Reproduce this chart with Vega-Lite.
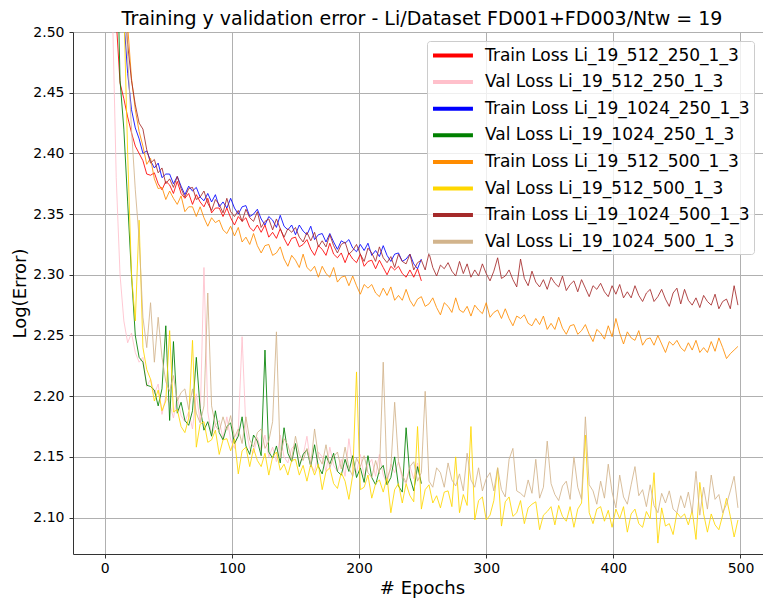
{
  "$schema": "https://vega.github.io/schema/vega-lite/v6.json",
  "width": 698,
  "height": 522,
  "autosize": {"type": "none"},
  "padding": {"left": 73, "top": 32, "right": 0, "bottom": 44},
  "config": {"view": {"stroke": null}, "font": "DejaVu Sans"},
  "title": {
    "text": "Training y validation error - Li/Dataset FD001+FD003/Ntw = 19",
    "font": "DejaVu Sans", "fontSize": 19, "fontWeight": "normal", "color": "black",
    "anchor": "middle", "frame": "group", "offset": -4
  },
  "data": {"values": [
    {"e":0,"a":3.2,"b":3.0,"c":3.4,"d":3.2,"f":3.4,"g":3.3,"h":3.4,"k":3.3},
    {"e":3,"a":2.9,"b":2.75,"c":3.1,"d":2.95,"f":3.2,"g":3.0,"h":3.15,"k":3.05},
    {"e":6,"a":2.65,"b":2.52,"c":2.85,"d":2.75,"f":3.0,"g":2.8,"h":2.9,"k":2.88},
    {"e":9,"a":2.51,"b":2.38,"c":2.68,"d":2.6,"f":2.8,"g":2.65,"h":2.72,"k":2.74},
    {"e":12,"a":2.458,"b":2.30,"c":2.57,"d":2.46,"f":2.65,"g":2.58,"h":2.6,"k":2.63},
    {"e":15,"a":2.445,"b":2.262,"c":2.51,"d":2.42,"f":2.56,"g":2.52,"h":2.53,"k":2.55},
    {"e":18,"a":2.43,"b":2.244,"c":2.466,"d":2.36,"f":2.505,"g":2.40,"h":2.49,"k":2.48},
    {"e":21,"a":2.417,"b":2.252,"c":2.436,"d":2.30,"f":2.462,"g":2.30,"h":2.46,"k":2.42},
    {"e":24,"a":2.406,"b":2.236,"c":2.421,"d":2.25,"f":2.436,"g":2.262,"h":2.44,"k":2.37},
    {"e":27,"a":2.40,"b":2.228,"c":2.412,"d":2.232,"f":2.418,"g":2.345,"h":2.425,"k":2.33},
    {"e":30,"a":2.394,"b":2.232,"c":2.400,"d":2.228,"f":2.406,"g":2.24,"h":2.420,"k":2.265},
    {"e":33,"a":2.383,"b":2.208,"c":2.402,"d":2.209,"f":2.391,"g":2.222,"h":2.403,"k":2.24},
    {"e":36,"a":2.382,"b":2.214,"c":2.394,"d":2.208,"f":2.396,"g":2.214,"h":2.392,"k":2.277},
    {"e":39,"a":2.384,"b":2.202,"c":2.388,"d":2.205,"f":2.379,"g":2.196,"h":2.395,"k":2.228},
    {"e":42,"a":2.375,"b":2.21,"c":2.392,"d":2.192,"f":2.371,"g":2.205,"h":2.384,"k":2.265},
    {"e":45,"a":2.370,"b":2.185,"c":2.380,"d":2.206,"f":2.372,"g":2.188,"h":2.388,"k":2.232},
    {"e":48,"a":2.377,"b":2.200,"c":2.383,"d":2.258,"f":2.362,"g":2.196,"h":2.375,"k":2.212},
    {"e":51,"a":2.374,"b":2.194,"c":2.383,"d":2.180,"f":2.369,"g":2.254,"h":2.379,"k":2.204},
    {"e":54,"a":2.367,"b":2.182,"c":2.375,"d":2.245,"f":2.363,"g":2.187,"h":2.372,"k":2.217},
    {"e":57,"a":2.377,"b":2.200,"c":2.381,"d":2.186,"f":2.358,"g":2.189,"h":2.381,"k":2.196},
    {"e":60,"a":2.367,"b":2.184,"c":2.373,"d":2.195,"f":2.365,"g":2.175,"h":2.371,"k":2.203},
    {"e":63,"a":2.363,"b":2.179,"c":2.366,"d":2.180,"f":2.352,"g":2.170,"h":2.364,"k":2.206},
    {"e":66,"a":2.367,"b":2.187,"c":2.373,"d":2.176,"f":2.356,"g":2.182,"h":2.371,"k":2.189},
    {"e":69,"a":2.358,"b":2.173,"c":2.369,"d":2.188,"f":2.356,"g":2.246,"h":2.372,"k":2.206},
    {"e":72,"a":2.366,"b":2.202,"c":2.372,"d":2.232,"f":2.348,"g":2.158,"h":2.362,"k":2.186},
    {"e":75,"a":2.360,"b":2.179,"c":2.364,"d":2.190,"f":2.356,"g":2.177,"h":2.364,"k":2.178},
    {"e":78,"a":2.356,"b":2.306,"c":2.361,"d":2.172,"f":2.347,"g":2.179,"h":2.369,"k":2.192},
    {"e":81,"a":2.363,"b":2.187,"c":2.367,"d":2.179,"f":2.340,"g":2.162,"h":2.359,"k":2.285},
    {"e":84,"a":2.351,"b":2.168,"c":2.360,"d":2.167,"f":2.347,"g":2.164,"h":2.353,"k":2.192},
    {"e":87,"a":2.355,"b":2.176,"c":2.366,"d":2.188,"f":2.343,"g":2.172,"h":2.362,"k":2.176},
    {"e":90,"a":2.355,"b":2.180,"c":2.356,"d":2.170,"f":2.345,"g":2.152,"h":2.358,"k":2.171},
    {"e":93,"a":2.348,"b":2.165,"c":2.360,"d":2.164,"f":2.337,"g":2.164,"h":2.351,"k":2.183},
    {"e":96,"a":2.355,"b":2.183,"c":2.355,"d":2.175,"f":2.334,"g":2.165,"h":2.363,"k":2.172},
    {"e":99,"a":2.347,"b":2.164,"c":2.363,"d":2.178,"f":2.340,"g":2.155,"h":2.352,"k":2.184},
    {"e":102,"a":2.341,"b":2.157,"c":2.355,"d":2.161,"f":2.332,"g":2.165,"h":2.348,"k":2.166},
    {"e":105,"a":2.348,"b":2.172,"c":2.350,"d":2.167,"f":2.339,"g":2.136,"h":2.353,"k":2.173},
    {"e":108,"a":2.344,"b":2.249,"c":2.356,"d":2.183,"f":2.327,"g":2.155,"h":2.344,"k":2.161},
    {"e":111,"a":2.347,"b":2.173,"c":2.357,"d":2.159,"f":2.331,"g":2.158,"h":2.354,"k":2.183},
    {"e":114,"a":2.339,"b":2.157,"c":2.348,"d":2.152,"f":2.325,"g":2.142,"h":2.347,"k":2.164},
    {"e":117,"a":2.336,"b":2.153,"c":2.350,"d":2.168,"f":2.334,"g":2.157,"h":2.344,"k":2.158},
    {"e":120,"a":2.341,"b":2.166,"c":2.354,"d":2.163,"f":2.324,"g":2.147,"h":2.352,"k":2.170},
    {"e":123,"a":2.335,"b":2.155,"c":2.346,"d":2.151,"f":2.318,"g":2.142,"h":2.339,"k":2.173},
    {"e":126,"a":2.341,"b":2.168,"c":2.341,"d":2.238,"f":2.324,"g":2.153,"h":2.344,"k":2.157},
    {"e":129,"a":2.331,"b":2.150,"c":2.348,"d":2.154,"f":2.325,"g":2.135,"h":2.346,"k":2.163},
    {"e":132,"a":2.335,"b":2.158,"c":2.345,"d":2.149,"f":2.316,"g":2.150,"h":2.337,"k":2.179},
    {"e":135,"a":2.330,"b":2.146,"c":2.339,"d":2.159,"f":2.318,"g":2.154,"h":2.346,"k":2.253},
    {"e":138,"a":2.338,"b":2.168,"c":2.349,"d":2.145,"f":2.323,"g":2.139,"h":2.338,"k":2.149},
    {"e":141,"a":2.330,"b":2.150,"c":2.340,"d":2.174,"f":2.313,"g":2.144,"h":2.331,"k":2.165},
    {"e":144,"a":2.324,"b":2.145,"c":2.337,"d":2.153,"f":2.307,"g":2.135,"h":2.338,"k":2.160},
    {"e":147,"a":2.330,"b":2.157,"c":2.341,"d":2.146,"f":2.316,"g":2.147,"h":2.335,"k":2.148},
    {"e":150,"a":2.331,"b":2.160,"c":2.333,"d":2.161,"f":2.312,"g":2.148,"h":2.339,"k":2.167},
    {"e":153,"a":2.323,"b":2.144,"c":2.341,"d":2.142,"f":2.306,"g":2.135,"h":2.331,"k":2.152},
    {"e":156,"a":2.325,"b":2.151,"c":2.336,"d":2.152,"f":2.317,"g":2.143,"h":2.327,"k":2.147},
    {"e":159,"a":2.329,"b":2.167,"c":2.333,"d":2.156,"f":2.306,"g":2.130,"h":2.335,"k":2.157},
    {"e":162,"a":2.321,"b":2.144,"c":2.340,"d":2.142,"f":2.303,"g":2.144,"h":2.328,"k":2.143},
    {"e":165,"a":2.316,"b":2.138,"c":2.329,"d":2.160,"f":2.307,"g":2.135,"h":2.335,"k":2.173},
    {"e":168,"a":2.324,"b":2.154,"c":2.333,"d":2.142,"f":2.298,"g":2.144,"h":2.323,"k":2.150},
    {"e":171,"a":2.321,"b":2.150,"c":2.334,"d":2.136,"f":2.307,"g":2.123,"h":2.328,"k":2.144},
    {"e":174,"a":2.316,"b":2.138,"c":2.327,"d":2.151,"f":2.301,"g":2.138,"h":2.323,"k":2.160},
    {"e":177,"a":2.326,"b":2.158,"c":2.334,"d":2.144,"f":2.298,"g":2.141,"h":2.333,"k":2.141},
    {"e":180,"a":2.317,"b":2.143,"c":2.327,"d":2.153,"f":2.306,"g":2.128,"h":2.324,"k":2.150},
    {"e":183,"a":2.314,"b":2.138,"c":2.321,"d":2.138,"f":2.294,"g":2.124,"h":2.318,"k":2.154},
    {"e":186,"a":2.318,"b":2.148,"c":2.328,"d":2.135,"f":2.298,"g":2.137,"h":2.325,"k":2.140},
    {"e":189,"a":2.310,"b":2.134,"c":2.326,"d":2.148,"f":2.299,"g":2.130,"h":2.327,"k":2.158},
    {"e":192,"a":2.318,"b":2.165,"c":2.329,"d":2.138,"f":2.291,"g":2.115,"h":2.317,"k":2.141},
    {"e":195,"a":2.313,"b":2.142,"c":2.322,"d":2.151,"f":2.299,"g":2.135,"h":2.320,"k":2.134},
    {"e":198,"a":2.310,"b":2.137,"c":2.319,"d":2.133,"f":2.291,"g":2.220,"h":2.325,"k":2.149},
    {"e":201,"a":2.317,"b":2.152,"c":2.325,"d":2.141,"f":2.284,"g":2.123,"h":2.317,"k":2.142},
    {"e":204,"a":2.307,"b":2.134,"c":2.320,"d":2.129,"f":2.292,"g":2.125,"h":2.311,"k":2.151},
    {"e":207,"a":2.311,"b":2.143,"c":2.326,"d":2.151,"f":2.289,"g":2.135,"h":2.322,"k":2.137},
    {"e":210,"a":2.312,"b":2.148,"c":2.316,"d":2.133,"f":2.292,"g":2.116,"h":2.318,"k":2.133},
    {"e":213,"a":2.305,"b":2.134,"c":2.320,"d":2.127,"f":2.285,"g":2.128,"h":2.311,"k":2.147},
    {"e":216,"a":2.312,"b":2.152,"c":2.315,"d":2.139,"f":2.282,"g":2.131,"h":2.323,"k":2.136},
    {"e":219,"a":2.306,"b":2.135,"c":2.324,"d":2.143,"f":2.289,"g":2.121,"h":2.314,"k":2.228},
    {"e":222,"a":2.300,"b":2.128,"c":2.316,"d":2.127,"f":2.283,"g":2.133,"h":2.310,"k":2.132},
    {"e":225,"a":2.307,"b":2.144,"c":2.311,"d":2.133,"f":2.290,"g":2.104,"h":2.315,"k":2.141},
    {"e":228,"a":2.304,"b":2.137,"c":2.317,"d":2.150,"f":2.279,"g":2.123,"h":2.306,"k":2.195},
    {"e":231,"a":2.307,"b":2.146,"c":2.318,"d":2.126,"f":2.283,"g":2.128,"h":2.317,"k":2.146},
    {"e":234,"a":2.301,"b":2.132,"c":2.311,"d":2.121,"f":2.279,"g":2.112,"h":2.311,"k":2.135},
    {"e":237,"a":2.298,"b":2.128,"c":2.313,"d":2.174,"f":2.288,"g":2.128,"h":2.309,"k":2.129},
    {"e":240,"a":2.304,"b":2.142,"c":2.317,"d":2.133,"f":2.279,"g":2.118,"h":2.317,"k":2.142},
    {"e":243,"a":2.298,"b":2.132,"c":2.309,"d":2.122,"f":2.274,"g":2.113,"h":2.304,"k":2.146},
    {"e":246,"a":2.305,"b":2.145,"c":2.305,"d":2.142,"f":2.280,"g":2.175,"h":2.310,"k":2.130},
    {"e":249,"a":2.295,"b":2.128,"c":2.313,"d":2.128,"f":2.282,"g":2.107,"h":2.312,"k":2.137},
    {"e":252,"f":2.274,"g":2.123,"h":2.304,"k":2.204},
    {"e":255,"f":2.276,"g":2.127,"h":2.318,"k":2.130},
    {"e":258,"f":2.281,"g":2.112,"h":2.306,"k":2.125},
    {"e":261,"f":2.273,"g":2.118,"h":2.299,"k":2.141},
    {"e":264,"f":2.267,"g":2.108,"h":2.308,"k":2.137},
    {"e":267,"f":2.277,"g":2.121,"h":2.305,"k":2.125},
    {"e":270,"f":2.274,"g":2.122,"h":2.310,"k":2.145},
    {"e":273,"f":2.269,"g":2.109,"h":2.303,"k":2.131},
    {"e":276,"f":2.281,"g":2.150,"h":2.299,"k":2.126},
    {"e":279,"f":2.271,"g":2.104,"h":2.311,"k":2.136},
    {"e":282,"f":2.269,"g":2.119,"h":2.301,"k":2.122},
    {"e":285,"f":2.274,"g":2.110,"h":2.309,"k":2.153},
    {"e":288,"f":2.266,"g":2.175,"h":2.298,"k":2.131},
    {"e":291,"f":2.275,"g":2.098,"h":2.304,"k":2.125},
    {"e":294,"f":2.271,"g":2.114,"h":2.299,"k":2.141},
    {"e":297,"f":2.268,"g":2.117,"h":2.309,"k":2.122},
    {"e":300,"f":2.277,"g":2.098,"h":2.301,"k":2.132},
    {"e":303,"f":2.265,"g":2.102,"h":2.295,"k":2.137},
    {"e":306,"f":2.269,"g":2.114,"h":2.303,"k":2.122},
    {"e":309,"f":2.271,"g":2.141,"h":2.314,"k":2.141},
    {"e":312,"f":2.264,"g":2.093,"h":2.297,"k":2.123},
    {"e":315,"f":2.272,"g":2.113,"h":2.299,"k":2.117},
    {"e":318,"f":2.264,"g":2.117,"h":2.304,"k":2.148},
    {"e":321,"f":2.258,"g":2.101,"h":2.296,"k":2.157},
    {"e":324,"f":2.266,"g":2.104,"h":2.290,"k":2.122},
    {"e":327,"f":2.264,"g":2.114,"h":2.313,"k":2.120},
    {"e":330,"f":2.267,"g":2.095,"h":2.297,"k":2.117},
    {"e":333,"f":2.260,"g":2.108,"h":2.291,"k":2.131},
    {"e":336,"f":2.258,"g":2.111,"h":2.303,"k":2.120},
    {"e":339,"f":2.264,"g":2.113,"h":2.294,"k":2.148},
    {"e":342,"f":2.259,"g":2.090,"h":2.290,"k":2.116},
    {"e":345,"f":2.266,"g":2.102,"h":2.296,"k":2.125},
    {"e":348,"f":2.255,"g":2.105,"h":2.288,"k":2.163},
    {"e":351,"f":2.260,"g":2.109,"h":2.298,"k":2.128},
    {"e":354,"f":2.255,"g":2.094,"h":2.293,"k":2.119},
    {"e":357,"f":2.265,"g":2.110,"h":2.290,"k":2.114},
    {"e":360,"f":2.256,"g":2.101,"h":2.299,"k":2.126},
    {"e":363,"f":2.251,"g":2.097,"h":2.287,"k":2.130},
    {"e":366,"f":2.258,"g":2.109,"h":2.292,"k":2.115},
    {"e":369,"f":2.259,"g":2.092,"h":2.295,"k":2.150},
    {"e":372,"f":2.251,"g":2.107,"h":2.286,"k":2.125},
    {"e":375,"f":2.254,"g":2.112,"h":2.296,"k":2.115},
    {"e":378,"f":2.259,"g":2.168,"h":2.289,"k":2.183},
    {"e":381,"f":2.251,"g":2.104,"h":2.282,"k":2.127},
    {"e":384,"f":2.245,"g":2.095,"h":2.291,"k":2.122},
    {"e":387,"f":2.255,"g":2.107,"h":2.288,"k":2.111},
    {"e":390,"f":2.252,"g":2.109,"h":2.293,"k":2.130},
    {"e":393,"f":2.247,"g":2.097,"h":2.286,"k":2.116},
    {"e":396,"f":2.258,"g":2.106,"h":2.282,"k":2.144},
    {"e":399,"f":2.249,"g":2.092,"h":2.291,"k":2.121},
    {"e":402,"f":2.264,"g":2.107,"h":2.284,"k":2.108},
    {"e":405,"f":2.252,"g":2.099,"h":2.292,"k":2.135},
    {"e":408,"f":2.243,"g":2.109,"h":2.281,"k":2.117},
    {"e":411,"f":2.253,"g":2.088,"h":2.286,"k":2.111},
    {"e":414,"f":2.248,"g":2.103,"h":2.281,"k":2.127},
    {"e":417,"f":2.246,"g":2.107,"h":2.291,"k":2.142},
    {"e":420,"f":2.254,"g":2.095,"h":2.283,"k":2.118},
    {"e":423,"f":2.242,"g":2.092,"h":2.278,"k":2.123},
    {"e":426,"f":2.247,"g":2.105,"h":2.285,"k":2.109},
    {"e":429,"f":2.248,"g":2.099,"h":2.288,"k":2.127},
    {"e":432,"f":2.242,"g":2.137,"h":2.278,"k":2.110},
    {"e":435,"f":2.250,"g":2.079,"h":2.282,"k":2.104},
    {"e":438,"f":2.243,"g":2.108,"h":2.288,"k":2.120},
    {"e":441,"f":2.236,"g":2.093,"h":2.280,"k":2.112},
    {"e":444,"f":2.245,"g":2.095,"h":2.274,"k":2.122},
    {"e":447,"f":2.242,"g":2.086,"h":2.285,"k":2.107},
    {"e":450,"f":2.246,"g":2.104,"h":2.289,"k":2.104},
    {"e":453,"f":2.240,"g":2.100,"h":2.276,"k":2.118},
    {"e":456,"f":2.237,"g":2.103,"h":2.288,"k":2.108},
    {"e":459,"f":2.244,"g":2.094,"h":2.279,"k":2.121},
    {"e":462,"f":2.238,"g":2.106,"h":2.275,"k":2.104},
    {"e":465,"f":2.246,"g":2.082,"h":2.281,"k":2.138},
    {"e":468,"f":2.236,"g":2.129,"h":2.273,"k":2.102},
    {"e":471,"f":2.240,"g":2.103,"h":2.283,"k":2.125},
    {"e":474,"f":2.236,"g":2.088,"h":2.278,"k":2.107},
    {"e":477,"f":2.245,"g":2.103,"h":2.275,"k":2.135},
    {"e":480,"f":2.237,"g":2.094,"h":2.284,"k":2.115},
    {"e":483,"f":2.248,"g":2.090,"h":2.272,"k":2.119},
    {"e":486,"f":2.240,"g":2.102,"h":2.278,"k":2.104},
    {"e":489,"f":2.231,"g":2.116,"h":2.280,"k":2.111},
    {"e":492,"f":2.235,"g":2.101,"h":2.272,"k":2.122},
    {"e":495,"f":2.238,"g":2.084,"h":2.291,"k":2.134},
    {"e":498,"f":2.241,"g":2.098,"h":2.275,"k":2.108}
  ]},
  "transform": [
    {"fold": ["a", "b", "c", "d", "f", "g", "h", "k"], "as": ["series", "loss"]},
    {"filter": "isValid(datum.loss)"}
  ],
  "mark": {"type": "line", "strokeWidth": 1, "opacity": 0.85, "clip": true},
  "encoding": {
    "x": {
      "field": "e", "type": "quantitative",
      "scale": {"domain": [-25, 524], "nice": false, "zero": false},
      "axis": {
        "values": [0, 100, 200, 300, 400, 500], "format": "d",
        "title": "# Epochs", "titleFont": "DejaVu Sans", "titleFontSize": 18, "titleFontWeight": "normal",
        "titleColor": "black", "titlePadding": 4,
        "labelFont": "DejaVu Sans", "labelFontSize": 14, "labelColor": "black", "labelPadding": 3,
        "tickSize": 4, "tickColor": "#333333", "domainColor": "#333333", "domainWidth": 1,
        "grid": true, "gridColor": "#b0b0b0", "gridWidth": 1
      }
    },
    "y": {
      "field": "loss", "type": "quantitative",
      "scale": {"domain": [2.07, 2.5], "nice": false, "zero": false},
      "axis": {
        "values": [2.1, 2.15, 2.2, 2.25, 2.3, 2.35, 2.4, 2.45, 2.5], "format": ".2f",
        "title": "Log(Error)", "titleFont": "DejaVu Sans", "titleFontSize": 18, "titleFontWeight": "normal",
        "titleColor": "black", "titlePadding": 3,
        "labelFont": "DejaVu Sans", "labelFontSize": 14, "labelColor": "black", "labelPadding": 5,
        "tickSize": 4, "tickColor": "#333333", "domainColor": "#333333", "domainWidth": 1,
        "grid": true, "gridColor": "#b0b0b0", "gridWidth": 1
      }
    },
    "color": {
      "field": "series", "type": "nominal",
      "scale": {
        "domain": ["a", "b", "c", "d", "f", "g", "h", "k"],
        "range": ["red", "pink", "blue", "green", "darkorange", "gold", "brown", "tan"]
      },
      "legend": {
        "title": null, "orient": "none", "legendX": 354, "legendY": 9,
        "symbolType": "M-1,0H3.7", "symbolSize": 289, "symbolStrokeWidth": 4, "symbolOpacity": 1,
        "labelFont": "DejaVu Sans", "labelFontSize": 17, "labelColor": "black", "labelOffset": 33,
        "labelLimit": 400, "rowPadding": 7.6, "padding": 4, "cornerRadius": 3,
        "strokeColor": "#cccccc", "fillColor": "rgba(255,255,255,0.8)",
        "labelExpr": "{'a': 'Train Loss Li_19_512_250_1_3', 'b': 'Val Loss Li_19_512_250_1_3', 'c': 'Train Loss Li_19_1024_250_1_3', 'd': 'Val Loss Li_19_1024_250_1_3', 'f': 'Train Loss Li_19_512_500_1_3', 'g': 'Val Loss Li_19_512_500_1_3', 'h': 'Train Loss Li_19_1024_500_1_3', 'k': 'Val Loss Li_19_1024_500_1_3'}[datum.label]"
      }
    }
  }
}
